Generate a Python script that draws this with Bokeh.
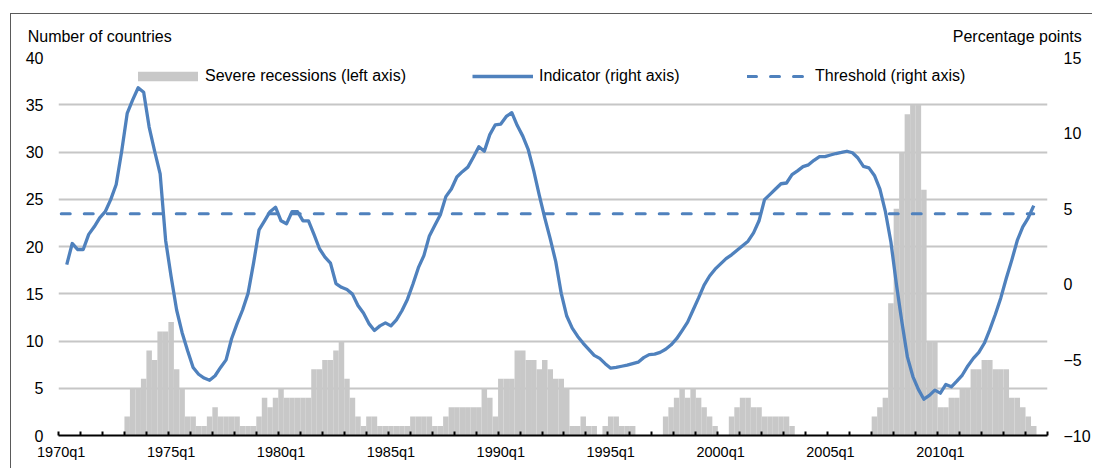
from bokeh.plotting import figure
from bokeh.models import (Range1d, LinearAxis, FixedTicker, Legend, LegendItem,
                          ColumnDataSource)
from bokeh.embed import file_html
from bokeh.resources import INLINE

# ---------------- data ----------------
quarters = [f"{1970 + i // 4}q{i % 4 + 1}" for i in range(178)]

# Number of countries in severe recession (left axis), 1970q1-2014q2
recessions = [
    0, 0, 0, 0,   0, 0, 0, 0,   0, 0, 0, 0,      # 1970-1972
    2, 5, 5, 6,      # 1973
    9, 8, 11, 11,    # 1974
    12, 7, 5, 2,     # 1975
    2, 1, 1, 2,      # 1976
    3, 2, 2, 2,      # 1977
    2, 1, 1, 1,      # 1978
    2, 4, 3, 4,      # 1979
    5, 4, 4, 4,      # 1980
    4, 4, 7, 7,      # 1981
    8, 8, 9, 10,     # 1982
    6, 4, 2, 1,      # 1983
    2, 2, 1, 1,      # 1984
    1, 1, 1, 1,      # 1985
    2, 2, 2, 2,      # 1986
    1, 1, 2, 3,      # 1987
    3, 3, 3, 3,      # 1988
    3, 5, 4, 2,      # 1989
    6, 6, 6, 9,      # 1990
    9, 8, 8, 7,      # 1991
    8, 7, 6, 6,      # 1992
    5, 1, 1, 2,      # 1993
    1, 1, 0, 1,      # 1994
    2, 2, 1, 1,      # 1995
    1, 0, 0, 0,      # 1996
    0, 0, 2, 3,      # 1997
    4, 5, 4, 5,      # 1998
    4, 3, 2, 1,      # 1999
    0, 0, 2, 3,      # 2000
    4, 4, 3, 3,      # 2001
    2, 2, 2, 2,      # 2002
    2, 1, 0, 0,      # 2003
    0, 0, 0, 0,      # 2004
    0, 0, 0, 0,      # 2005
    0, 0, 0, 0,      # 2006
    2, 3, 4, 14,     # 2007
    24, 30, 34, 35,  # 2008
    35, 26, 10, 10,  # 2009
    3, 3, 4, 4,      # 2010
    5, 5, 7, 7,      # 2011
    8, 8, 7, 7,      # 2012
    7, 4, 4, 3,      # 2013
    2, 1,            # 2014
]

# Indicator (right axis, percentage points)
nan = float("nan")
indicator = [
    nan, 1.3, 2.7, 2.3,          # 1970
    2.3, 3.3, 3.8, 4.4,          # 1971
    4.8, 5.6, 6.6, 8.8,          # 1972
    11.3, 12.2, 13.0, 12.7,      # 1973
    10.4, 8.8, 7.3, 2.9,         # 1974
    0.5, -1.7, -3.2, -4.4,       # 1975
    -5.5, -5.95, -6.2, -6.35,    # 1976
    -6.05, -5.5, -5.0, -3.6,     # 1977
    -2.6, -1.7, -0.6, 1.4,       # 1978
    3.6, 4.2, 4.8, 5.1,          # 1979
    4.2, 4.0, 4.8, 4.8,          # 1980
    4.2, 4.2, 3.3, 2.35,         # 1981
    1.8, 1.4, 0.05, -0.2,        # 1982
    -0.35, -0.65, -1.4, -1.9,    # 1983
    -2.6, -3.05, -2.75, -2.55,   # 1984
    -2.75, -2.35, -1.75, -1.0,   # 1985
    0.0, 1.1, 1.9, 3.2,          # 1986
    3.9, 4.6, 5.8, 6.3,          # 1987
    7.1, 7.45, 7.75, 8.4,        # 1988
    9.1, 8.8, 9.9, 10.55,        # 1989
    10.6, 11.1, 11.35, 10.5,     # 1990
    9.8, 8.9, 7.5, 5.9,          # 1991
    4.4, 3.0, 1.5, -0.6,         # 1992
    -2.1, -2.9, -3.45, -3.9,     # 1993
    -4.3, -4.7, -4.9, -5.25,     # 1994
    -5.55, -5.5, -5.42, -5.35,   # 1995
    -5.25, -5.15, -4.85, -4.65,  # 1996
    -4.62, -4.5, -4.3, -4.0,     # 1997
    -3.6, -3.06, -2.5, -1.7,     # 1998
    -0.9, -0.05, 0.55, 1.0,      # 1999
    1.35, 1.7, 1.95, 2.25,       # 2000
    2.55, 2.85, 3.4, 4.2,        # 2001
    5.6, 5.95, 6.3, 6.65,        # 2002
    6.7, 7.25, 7.5, 7.78,        # 2003
    7.9, 8.2, 8.45, 8.45,        # 2004
    8.55, 8.65, 8.72, 8.8,       # 2005
    8.7, 8.35, 7.8, 7.7,         # 2006
    7.2, 6.3, 4.8, 2.8,          # 2007
    0.0, -2.5, -4.8, -6.1,       # 2008
    -6.95, -7.6, -7.35, -7.0,    # 2009
    -7.2, -6.62, -6.78, -6.4,    # 2010
    -6.0, -5.4, -4.9, -4.5,      # 2011
    -3.9, -3.0, -2.0, -0.9,      # 2012
    0.4, 1.6, 2.9, 3.8,          # 2013
    4.4, 5.2,                    # 2014
]

threshold_value = 4.66
threshold = [threshold_value] * len(quarters)

left_ticks = [0, 5, 10, 15, 20, 25, 30, 35, 40]
right_ticks = [-10, -5, 0, 5, 10, 15]
label_every = 20           # one label every 5 years
n_axis_quarters = 180      # axis runs to 2014q4
left_title = "Number of countries"
right_title = "Percentage points"

# ---------------- styling ----------------
FONT = "Liberation Sans"
BLUE = "#4F81BD"
GREY_BAR = "#C8C8C8"
GRID = "#C6C6C6"

idx = list(range(len(quarters)))
src = ColumnDataSource(dict(x=idx, rec=recessions, ind=indicator, thr=threshold))

p = figure(width=1082, height=455, output_backend="svg", toolbar_location=None,
           x_range=Range1d(-0.5, n_axis_quarters - 0.5), y_range=Range1d(0, 40),
           min_border_left=47, min_border_right=44, min_border_top=43, min_border_bottom=34)
p.styles = {"margin-left": "10px", "margin-top": "13px",
            "border-left": "1px solid #5a5a5a", "border-top": "1px solid #5a5a5a"}
p.outline_line_color = None
p.background_fill_color = "white"
p.border_fill_color = "white"
p.extra_y_ranges = {"right": Range1d(-10, 15)}

# bars
bars = p.vbar(x="x", top="rec", width=1.0, source=src, fill_color=GREY_BAR,
              line_color=None)
# indicator
ind = p.line(x="x", y="ind", source=src, y_range_name="right", line_color=BLUE,
             line_width=3.3, line_join="round")
# threshold
thr = p.line(x="x", y="thr", source=src, y_range_name="right", line_color=BLUE,
             line_width=3, line_dash="9 14", line_cap="round")

# x axis
xa = p.xaxis[0]
major = list(range(0, 161, label_every))
xa.ticker = FixedTicker(ticks=major, minor_ticks=[b - 0.5 for b in range(0, n_axis_quarters + 1, 4)])
xa.major_label_overrides = {t: quarters[t] for t in major}
xa.major_tick_in = 0
xa.major_tick_out = 0
xa.minor_tick_in = 4
xa.minor_tick_out = 0
xa.minor_tick_line_color = "black"
xa.minor_tick_line_width = 2
xa.axis_line_color = "black"
xa.axis_line_width = 2
xa.major_label_text_font = FONT
xa.major_label_text_font_size = "14.5px"
xa.major_label_text_color = "black"
xa.major_label_standoff = 8
p.xgrid.visible = False

# left axis
ya = p.yaxis[0]
ya.ticker = FixedTicker(ticks=left_ticks)
ya.axis_line_color = None
ya.major_tick_line_color = None
ya.minor_tick_line_color = None
ya.major_tick_out = 0
ya.major_tick_in = 0
ya.major_label_text_font = FONT
ya.major_label_text_font_size = "16px"
ya.major_label_text_color = "black"
ya.major_label_standoff = 15
p.ygrid.ticker = FixedTicker(ticks=left_ticks)
p.ygrid.grid_line_color = GRID
p.ygrid.grid_line_width = 2

# right axis
ra = LinearAxis(y_range_name="right", ticker=FixedTicker(ticks=right_ticks))
ra.axis_line_color = None
ra.major_tick_line_color = None
ra.minor_tick_line_color = None
ra.major_tick_out = 0
ra.major_tick_in = 0
ra.major_label_text_font = FONT
ra.major_label_text_font_size = "16px"
ra.major_label_text_color = "black"
ra.major_label_standoff = 16
p.add_layout(ra, "right")

# unit titles over the two value axes (same baseline), as a label-only top axis
ta = LinearAxis(ticker=FixedTicker(ticks=[7, 174]))
ta.major_label_overrides = {7: left_title, 174: right_title}
ta.axis_line_color = None
ta.major_tick_line_color = None
ta.minor_tick_line_color = None
ta.major_tick_out = 0
ta.major_tick_in = 0
ta.major_label_text_font = FONT
ta.major_label_text_font_size = "16px"
ta.major_label_text_color = "black"
ta.major_label_standoff = 13
p.add_layout(ta, "above")

# legends
def make_legend(label, renderer, x, gw, gh, standoff):
    return Legend(items=[LegendItem(label=label, renderers=[renderer])],
                  location=(x, 350), orientation="horizontal",
                  border_line_color=None, background_fill_alpha=0,
                  padding=0, margin=0, spacing=0, glyph_width=gw, glyph_height=gh,
                  label_standoff=standoff, label_height=18,
                  label_text_font=FONT, label_text_font_size="16px",
                  label_text_color="black")

p.add_layout(make_legend("Severe recessions (left axis)", bars, 72, 75, 12, 0))
p.add_layout(make_legend("Indicator (right axis)", ind, 414, 61, 18, 6))
p.add_layout(make_legend("Threshold (right axis)", thr, 689, 61, 18, 7))

open("out.html", "w").write(file_html(p, INLINE))
